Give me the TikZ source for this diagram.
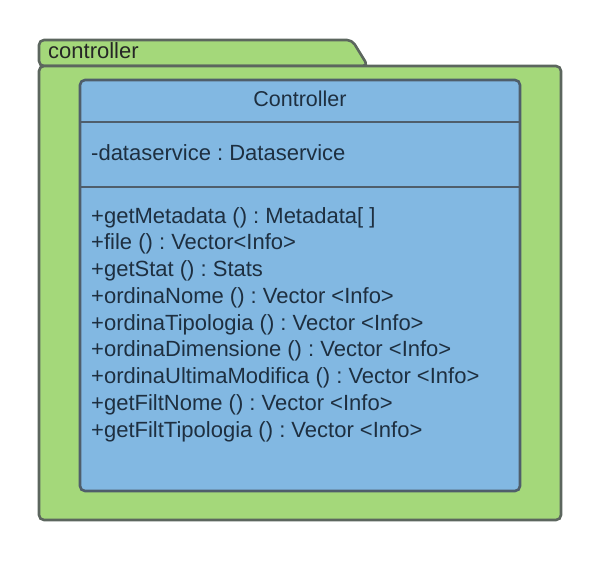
\documentclass[tikz,border=0pt]{standalone}
\usepackage{fontspec}
\setmainfont{Liberation Sans}
\frenchspacing
\definecolor{pkggreen}{HTML}{A4D87A}
\definecolor{clsblue}{HTML}{82B8E2}
\definecolor{edgegray}{HTML}{5C665E}
\definecolor{clsedge}{HTML}{4F5E6B}
\definecolor{txtdark}{HTML}{1E2F40}
\tikzset{
  pkg/.style={draw=edgegray, fill=pkggreen, line width=2.6pt, rounded corners=5pt},
  cls/.style={draw=clsedge, fill=clsblue, line width=2.6pt, rounded corners=5pt},
  member/.style={anchor=base west, inner sep=0pt, text=txtdark,
    font=\fontsize{22}{26}\selectfont}
}
\begin{document}
\begin{tikzpicture}[x=1pt,y=-1pt]
        \useasboundingbox (0,0) rectangle (600,560);
        % package
        \draw[pkg] (39,66) -- (39,40) -- (352,40) -- (368,66) -- cycle;
        \draw[pkg] (39,66) rectangle (561,520);
        \node[member, text=black!85] (pkgname) at (48,58.5) {controller};
        % class
        \draw[cls] (80,80) rectangle (520,491);
        \draw[draw=clsedge, line width=2.6pt] (80,122) -- (520,122);
        \draw[draw=clsedge, line width=2.6pt] (80,187) -- (520,187);
        \node[member, anchor=base, font=\fontsize{21.5}{26}\selectfont] (title) at (300,106.5) {Controller};
        \node[member] (attr) at (91,160.5) {-dataservice : Dataservice};
        \foreach \m [count=\i] in {%
            {+getMetadata () : Metadata[ ]},
            {+file () : Vector<Info>},
            {+getStat () : Stats},
            {+ordinaNome () : Vector <Info>},
            {+ordinaTipologia () : Vector <Info>},
            {+ordinaDimensione () : Vector <Info>},
            {+ordinaUltimaModifica () : Vector <Info>},
            {+getFiltNome () : Vector <Info>},
            {+getFiltTipologia () : Vector <Info>}}
          \node[member] (m\i) at (91,{223+26.75*(\i-1)}) {\m};
    \end{tikzpicture}
\end{document}
